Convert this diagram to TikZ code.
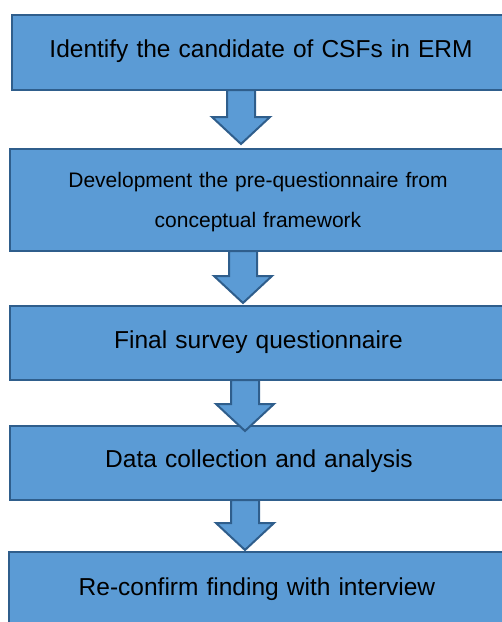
\documentclass[tikz,border=0pt]{standalone}
\usepackage{fontspec}
\setmainfont{Liberation Sans}[WordSpace={1.19}]
\usetikzlibrary{calc}
\definecolor{boxfill}{HTML}{5B9BD5}
\definecolor{boxline}{HTML}{2F5E8C}
\tikzset{
  box/.style={draw=boxline, fill=boxfill, line width=2pt, rectangle, inner sep=0pt},
  blk/.style={draw=boxline, fill=boxfill, line width=2pt, line join=miter},
  big/.style={font=\fontsize{24.5}{28}\selectfont, anchor=base, inner sep=0pt},
  small/.style={font=\fontsize{21}{40}\selectfont, anchor=base, inner sep=0pt}
}
\newcommand{\blockarrow}[2]{%
  \draw[blk] let \p1=(#1), \p2=(#2) in
    (\x1-14pt,\y1) -- (\x1-14pt,\y2+27pt) -- (\x1-29pt,\y2+27pt) -- (\x2,\y2)
    -- (\x1+29pt,\y2+27pt) -- (\x1+14pt,\y2+27pt) -- (\x1+14pt,\y1) -- cycle;}
\begin{document}
\begin{tikzpicture}[x=1pt,y=-1pt]
\useasboundingbox (0,0) rectangle (502,622);
\path[clip] (0,0) rectangle (502,622);
% boxes
\node[box, minimum width=498pt, minimum height=75pt] (b1) at (261,52.5) {};
\node[box, minimum width=496pt, minimum height=102pt] (b2) at (258,200) {};
\node[box, minimum width=496pt, minimum height=74pt] (b3) at (258,343) {};
\node[box, minimum width=496pt, minimum height=74pt] (b4) at (258,463) {};
\node[box, minimum width=497pt, minimum height=80pt] (b5) at (257.5,592) {};
% arrow ends
\coordinate (a1s) at (241,90);  \coordinate (a1t) at (241,144);
\coordinate (a2s) at (243,251); \coordinate (a2t) at (243,303);
\coordinate (a3s) at (245,380); \coordinate (a3t) at (245,431);
\coordinate (a4s) at (245,500); \coordinate (a4t) at (245,550);
\blockarrow{a1s}{a1t}
\blockarrow{a2s}{a2t}
\blockarrow{a3s}{a3t}
\blockarrow{a4s}{a4t}
% texts
\node[big] (t1) at (261,57) {Identify the candidate of CSFs in ERM};
\node[small] (t2a) at (258,187) {Development the pre-questionnaire from};
\node[small] (t2b) at (258,227) {conceptual framework};
\node[big] (t3) at (258.5,348) {Final survey questionnaire};
\node[big] (t4) at (259,467) {Data collection and analysis};
\node[big] (t5) at (257,595) {Re-confirm finding with interview};
\end{tikzpicture}
\end{document}
